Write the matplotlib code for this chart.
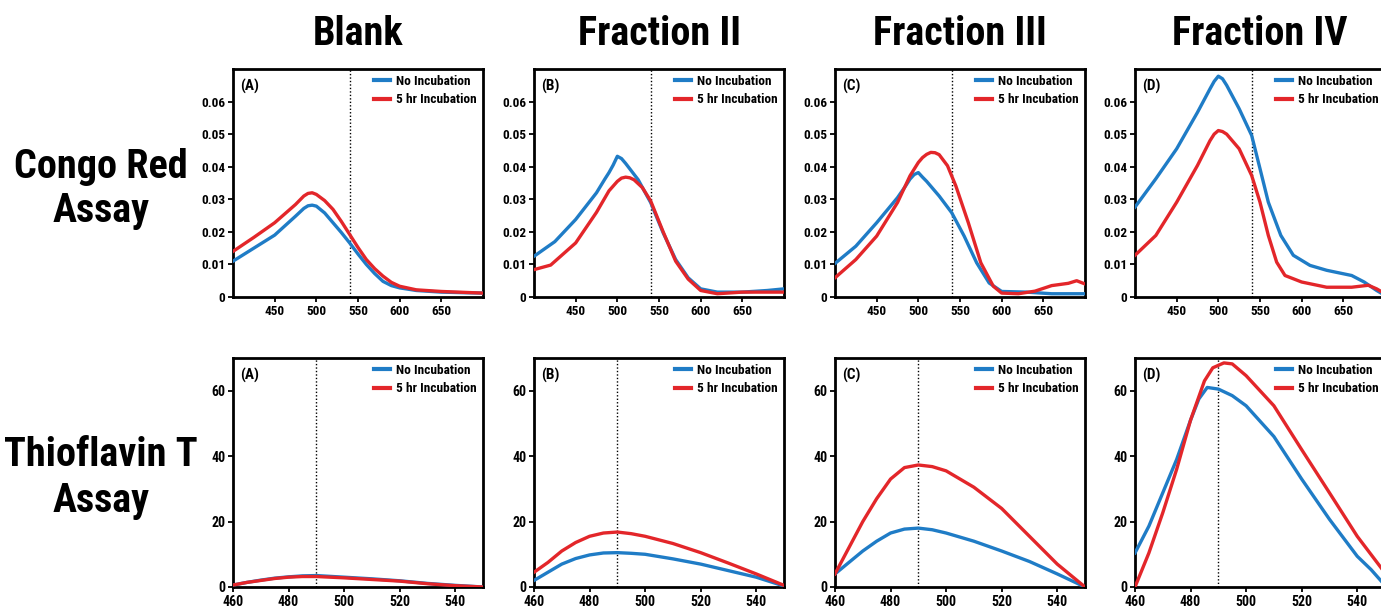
import numpy as np
import matplotlib
matplotlib.use("Agg")
import matplotlib.pyplot as plt
from matplotlib import font_manager

# ---------------- data ----------------
col_titles = ["Blank", "Fraction II", "Fraction III", "Fraction IV"]
panel_tags = ["(A)", "(B)", "(C)", "(D)"]
row_titles = ["Congo Red\nAssay", "Thioflavin T\nAssay"]
series_names = ["No Incubation", "5 hr Incubation"]

# Congo red absorbance (wavelength nm)
cr_xticks = [450, 500, 550, 600, 650]
cr_yticks = [0, 0.01, 0.02, 0.03, 0.04, 0.05, 0.06]
cr_ytick_labels = ["0", "0.01", "0.02", "0.03", "0.04", "0.05", "0.06"]

cr_blank_x_no = [400, 425, 450, 475, 485, 490, 495, 500, 510, 520, 530, 540, 550, 560, 570, 580, 590, 600, 620, 650, 680, 700]
cr_blank_y_no = [0.011, 0.015, 0.019, 0.0248, 0.0272, 0.0280, 0.0282, 0.0279, 0.0258, 0.0228, 0.0198, 0.0166, 0.0132, 0.010, 0.0072, 0.0048, 0.0035, 0.0028, 0.002, 0.0015, 0.0013, 0.0012]
cr_blank_x_5h = [400, 425, 450, 475, 485, 490, 495, 500, 510, 520, 530, 540, 550, 560, 570, 580, 590, 600, 620, 650, 680, 700]
cr_blank_y_5h = [0.014, 0.0183, 0.0228, 0.0284, 0.0310, 0.0318, 0.032, 0.0315, 0.0296, 0.0269, 0.0232, 0.0192, 0.0152, 0.0115, 0.0087, 0.0064, 0.0045, 0.0033, 0.0022, 0.0017, 0.0014, 0.0012]

cr_f2_x_no = [400, 425, 450, 475, 485, 490, 495, 500, 505, 510, 525, 540, 555, 570, 585, 600, 620, 650, 680, 700]
cr_f2_y_no = [0.0125, 0.017, 0.0238, 0.032, 0.0362, 0.0382, 0.0405, 0.0432, 0.0425, 0.0410, 0.036, 0.029, 0.0197, 0.0115, 0.0059, 0.0025, 0.0015, 0.0015, 0.002, 0.0025]
cr_f2_x_5h = [400, 420, 450, 475, 490, 500, 505, 510, 515, 520, 530, 540, 555, 570, 585, 600, 620, 650, 680, 700]
cr_f2_y_5h = [0.0084, 0.0098, 0.0166, 0.026, 0.0326, 0.0355, 0.0365, 0.0368, 0.0366, 0.0360, 0.0336, 0.0295, 0.020, 0.011, 0.0055, 0.002, 0.001, 0.0015, 0.0015, 0.0015]

cr_f3_x_no = [400, 425, 450, 475, 485, 490, 495, 500, 505, 510, 525, 540, 555, 570, 585, 600, 630, 660, 700]
cr_f3_y_no = [0.0103, 0.0156, 0.0228, 0.0305, 0.0342, 0.0362, 0.0376, 0.0382, 0.0368, 0.0355, 0.031, 0.0259, 0.0187, 0.0105, 0.0043, 0.0017, 0.0015, 0.001, 0.001]
cr_f3_x_5h = [400, 425, 450, 475, 490, 500, 505, 510, 515, 520, 525, 535, 545, 560, 575, 590, 600, 620, 640, 660, 680, 690, 700]
cr_f3_y_5h = [0.0059, 0.0115, 0.0187, 0.029, 0.0372, 0.0413, 0.0428, 0.0438, 0.0444, 0.0443, 0.0437, 0.0403, 0.0341, 0.0228, 0.0105, 0.0033, 0.0012, 0.001, 0.0018, 0.0035, 0.0042, 0.005, 0.004]

cr_f4_x_no = [400, 425, 450, 475, 490, 495, 500, 505, 510, 525, 540, 550, 560, 575, 590, 610, 630, 660, 675, 690, 700]
cr_f4_y_no = [0.0276, 0.0363, 0.0455, 0.0567, 0.0639, 0.0662, 0.0678, 0.0670, 0.0650, 0.0578, 0.0496, 0.0394, 0.0291, 0.0189, 0.0128, 0.0097, 0.0082, 0.0066, 0.0046, 0.002, 0.0005]
cr_f4_x_5h = [400, 425, 450, 475, 490, 495, 500, 505, 510, 525, 540, 550, 560, 570, 580, 600, 630, 660, 680, 690, 700]
cr_f4_y_5h = [0.0128, 0.0189, 0.0291, 0.0404, 0.048, 0.0500, 0.0511, 0.0508, 0.050, 0.0455, 0.0373, 0.0291, 0.0189, 0.0107, 0.0066, 0.0046, 0.003, 0.003, 0.0036, 0.0025, 0.001]

# Thioflavin T fluorescence
tt_xticks = [460, 480, 500, 520, 540]
tt_yticks = [0, 20, 40, 60]

tt_blank_x_no = [460, 465, 470, 475, 480, 485, 490, 500, 510, 520, 530, 540, 550]
tt_blank_y_no = [0.6, 1.4, 2.1, 2.7, 3.1, 3.4, 3.5, 3.0, 2.5, 1.9, 1.1, 0.5, 0.0]
tt_blank_x_5h = [460, 465, 470, 475, 480, 485, 490, 500, 510, 520, 530, 540, 550]
tt_blank_y_5h = [0.6, 1.4, 2.0, 2.6, 3.0, 3.2, 3.2, 2.8, 2.3, 1.8, 1.0, 0.4, 0.0]

tt_f2_x_no = [460, 465, 470, 475, 480, 485, 490, 495, 500, 510, 520, 530, 540, 550]
tt_f2_y_no = [2.0, 4.5, 7.0, 8.7, 9.8, 10.4, 10.5, 10.3, 10.0, 8.6, 7.0, 5.0, 3.0, 0.3]
tt_f2_x_5h = [460, 465, 470, 475, 480, 485, 490, 495, 500, 510, 520, 530, 540, 550]
tt_f2_y_5h = [4.5, 7.5, 11.0, 13.6, 15.5, 16.5, 16.8, 16.3, 15.5, 13.3, 10.5, 7.3, 4.0, 0.5]

tt_f3_x_no = [460, 465, 470, 475, 480, 485, 490, 495, 500, 510, 520, 530, 540, 550]
tt_f3_y_no = [4.0, 7.5, 11.0, 14.0, 16.5, 17.7, 18.0, 17.5, 16.5, 14.0, 11.0, 7.8, 4.0, 0.0]
tt_f3_x_5h = [460, 465, 470, 475, 480, 485, 490, 495, 500, 510, 520, 530, 540, 550]
tt_f3_y_5h = [4.0, 12.0, 20.0, 27.0, 33.0, 36.5, 37.3, 36.8, 35.5, 30.5, 24.0, 15.5, 7.0, 0.0]

tt_f4_x_no = [460, 465, 470, 475, 480, 483, 486, 490, 495, 500, 510, 520, 530, 540, 545, 550]
tt_f4_y_no = [10.4, 18.6, 28.8, 39.0, 51.0, 57.5, 61.0, 60.5, 58.5, 55.4, 46.0, 33.0, 20.7, 9.4, 5.3, 0.5]
tt_f4_x_5h = [460, 465, 470, 475, 480, 485, 488, 492, 495, 500, 510, 520, 530, 540, 550]
tt_f4_y_5h = [0.0, 10.4, 22.7, 36.0, 51.0, 63.0, 67.0, 68.5, 68.2, 64.6, 55.4, 42.0, 28.8, 15.5, 4.3]

cr_data = [
    [(cr_blank_x_no, cr_blank_y_no), (cr_blank_x_5h, cr_blank_y_5h)],
    [(cr_f2_x_no, cr_f2_y_no), (cr_f2_x_5h, cr_f2_y_5h)],
    [(cr_f3_x_no, cr_f3_y_no), (cr_f3_x_5h, cr_f3_y_5h)],
    [(cr_f4_x_no, cr_f4_y_no), (cr_f4_x_5h, cr_f4_y_5h)],
]
tt_data = [
    [(tt_blank_x_no, tt_blank_y_no), (tt_blank_x_5h, tt_blank_y_5h)],
    [(tt_f2_x_no, tt_f2_y_no), (tt_f2_x_5h, tt_f2_y_5h)],
    [(tt_f3_x_no, tt_f3_y_no), (tt_f3_x_5h, tt_f3_y_5h)],
    [(tt_f4_x_no, tt_f4_y_no), (tt_f4_x_5h, tt_f4_y_5h)],
]

# ---------------- style ----------------
names = {f.name for f in font_manager.fontManager.ttflist}
prefs = ["Liberation Sans Narrow", "Arial Narrow", "Roboto Condensed",
         "Archivo Narrow", "PT Sans Narrow", "Open Sans Condensed",
         "IBM Plex Sans Condensed", "Roboto"]
chosen = [f for f in prefs if f in names][:1]
FAM = chosen + ["DejaVu Sans"]
plt.rcParams['font.family'] = FAM
plt.rcParams['font.weight'] = 'bold'

BLUE = "#1f7cc6"
RED = "#e3262a"
colors = [BLUE, RED]

W, H = 1381, 609
fig = plt.figure(figsize=(W / 100, H / 100), dpi=100)

col_left = [233, 534, 835, 1135]
ax_w = 250
rows = [(69, 297), (358, 587)]

def px_rect(l, t, w, b):
    return [l / W, 1 - b / H, w / W, (b - t) / H]

for r, (top, bot) in enumerate(rows):
    for c in range(4):
        ax = fig.add_axes(px_rect(col_left[c], top, ax_w, bot))
        data = cr_data[c] if r == 0 else tt_data[c]
        for k, (xs, ys) in enumerate(data):
            ax.plot(xs, ys, color=colors[k], lw=2.4, label=series_names[k],
                    solid_joinstyle='round', zorder=3 if k == 0 else 4)
        if r == 0:
            ax.set_xlim(400, 700)
            ax.set_ylim(0, 0.07)
            ax.set_xticks(cr_xticks)
            ax.set_yticks(cr_yticks)
            ax.set_yticklabels(cr_ytick_labels)
            ax.axvline(540, color='black', lw=1.0, ls=(0, (1, 1.5)), zorder=2)
        else:
            ax.set_xlim(460, 550)
            ax.set_ylim(0, 70)
            ax.set_xticks(tt_xticks)
            ax.set_yticks(tt_yticks)
            ax.axvline(490, color='black', lw=1.0, ls=(0, (1, 1.5)), zorder=2)
        for s in ax.spines.values():
            s.set_linewidth(2.0)
        ax.tick_params(direction='out', length=3.5, width=1.3,
                       labelsize=10 if r == 1 else 9.5, pad=2)
        for lab in ax.get_xticklabels() + ax.get_yticklabels():
            lab.set_fontweight('bold')
        ax.text(0.03, 0.955, panel_tags[c], transform=ax.transAxes,
                ha='left', va='top', fontsize=11, fontweight='bold')
        leg = ax.legend(loc='upper right', bbox_to_anchor=(1.0, 1.0),
                        bbox_transform=ax.transAxes, frameon=False,
                        fontsize=9.6, handlelength=1.2, handletextpad=0.45,
                        labelspacing=0.4, borderaxespad=0.2, borderpad=0.25)
        for h in leg.get_lines():
            h.set_linewidth(3.0)
        for t in leg.get_texts():
            t.set_fontweight('bold')

# column titles
for c in range(4):
    cx = (col_left[c] + ax_w / 2) / W
    fig.text(cx, 1 - 34 / H, col_titles[c], ha='center', va='center',
             fontsize=29, fontweight='bold')

# row titles
fig.text(101 / W, 1 - 189 / H, row_titles[0], ha='center', va='center',
         fontsize=29, fontweight='bold', linespacing=1.22)
fig.text(101 / W, 1 - 478 / H, row_titles[1], ha='center', va='center',
         fontsize=29, fontweight='bold', linespacing=1.25)

fig.savefig("out.png", dpi=100, facecolor='white')
